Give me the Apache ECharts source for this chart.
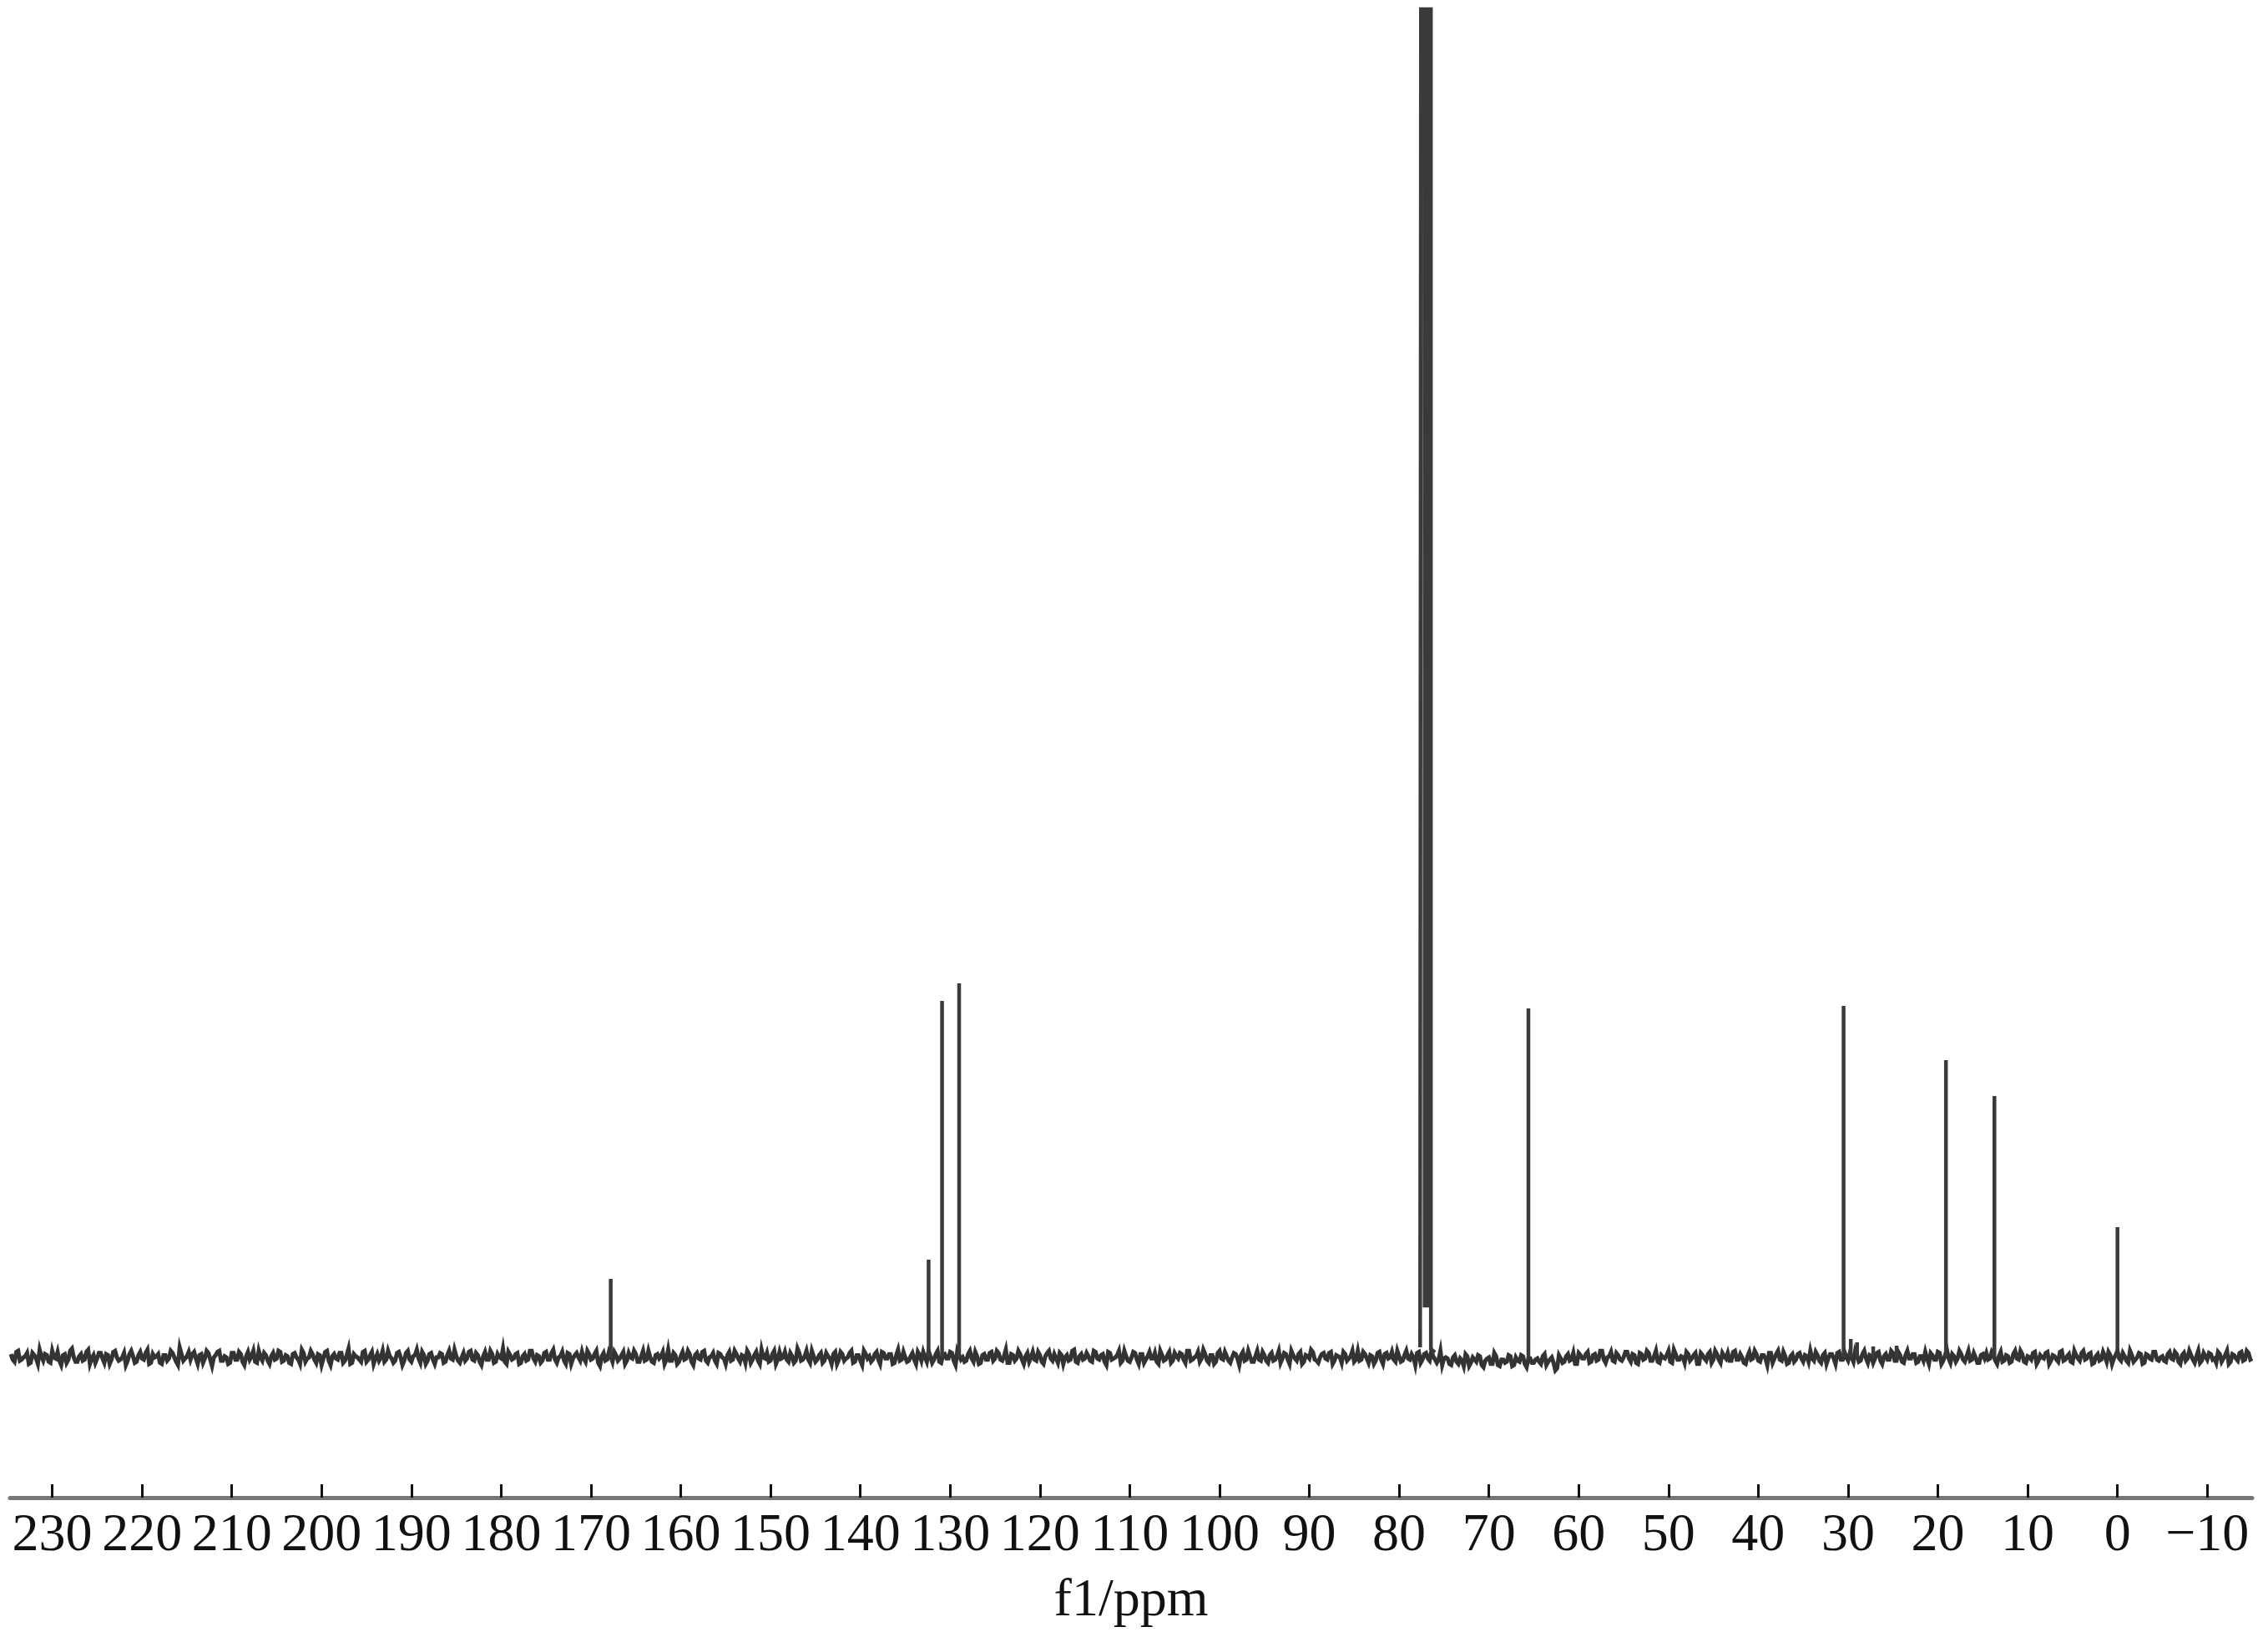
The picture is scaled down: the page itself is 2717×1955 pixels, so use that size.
<!DOCTYPE html>
<html>
<head>
<meta charset="utf-8">
<script src="https://cdn.jsdelivr.net/npm/echarts@6/dist/echarts.min.js"></script>
<style>
  html, body { margin: 0; padding: 0; background: #ffffff; }
  #chart { width: 2717px; height: 1955px; }
</style>
</head>
<body>
<div id="chart"></div>
<script>
// ---- Data ----
// Tick labels on the chemical-shift axis (ppm)
const tickValues = [230, 220, 210, 200, 190, 180, 170, 160, 150, 140, 130, 120, 110, 100, 90, 80, 70, 60, 50, 40, 30, 20, 10, 0, -10];

// Main peaks: chemical shift (ppm) and intensity (arbitrary units, baseline = 0)
const peakPpm = [167.8, 132.4, 130.9, 129.0, 65.6, 30.5, 19.1, 13.7, 0.0];
const peakInt = [94, 117, 427, 448, 418, 421, 356, 313, 156];

// Small impurity peaks near 30 ppm
const minorPpm = [29.7, 29.0, 27.2, 24.6];
const minorInt = [22, 18, 13, 14];

// CDCl3 solvent triplet (off scale), outline
const solventPpm = [77.66, 77.49, 77.49, 77.16, 77.16, 76.79, 76.79, 76.46, 76.46, 76.0];
const solventInt = [12, 12, 3000, 3000, 62, 62, 3000, 3000, 10, 6];

// Baseline noise, sampled every 0.4 ppm from 234.6 ppm down to -15.0 ppm
const noiseStart = 234.6;
const noiseStep = 0.4;
const noise = [
 3,-4,6,-2,1,-6,4,-1,7,-3,2,-5,0,5,-7,3,-2,8,-4,1,-3,5,-6,2,-1,
 4,-5,2,-2,6,-3,0,-7,3,1,-4,5,-2,7,-5,0,3,-6,2,-1,4,-4,9,-3,1,
 -2,5,-6,3,-1,4,-8,2,6,-3,0,-5,4,-2,3,-7,5,1,-4,6,-3,2,-6,4,-1,
 5,-3,1,-6,4,-2,7,-4,0,3,-5,2,-1,6,-7,3,-2,4,-3,8,-5,1,-2,5,-4,
 2,-6,3,0,-4,6,-1,-3,5,-7,4,-2,1,7,-5,2,-3,4,-6,0,3,-4,6,-2,1,
 -5,4,-1,6,-3,2,-7,5,-2,3,-4,0,8,-6,2,-1,4,-5,3,-2,6,-4,1,-3,5,
 -2,7,-5,1,-3,4,-6,2,0,5,-4,3,-1,6,-8,4,-2,1,5,-3,2,-6,4,-1,3,
 -4,6,-2,0,-5,3,1,-6,7,-3,2,-4,5,-1,3,-7,4,-2,6,-5,1,-3,4,0,-6,
 5,-2,3,-4,1,6,-5,2,-3,7,-1,-4,3,-6,5,0,-2,4,-5,8,-3,1,-2,6,-4,
 2,-5,4,-1,3,-6,5,-3,0,6,-4,2,-7,3,1,-2,5,-6,4,-1,3,-5,7,-2,0,
 -3,4,-6,2,5,-4,1,-2,6,-5,3,-1,4,-7,2,0,-3,6,-4,1,-5,3,-2,5,-1,
 4,-3,7,-5,2,-1,3,-6,4,0,-2,5,-4,1,6,-3,-1,4,-6,2,-2,7,-5,3,-1,
 1,-4,5,-2,3,-7,4,-1,2,-5,6,-3,0,4,-6,3,-2,5,-1,-4,6,-3,2,-5,4,
 -1,3,-5,6,-2,1,-4,7,-3,2,-6,4,-1,5,-3,0,3,-7,5,-2,1,-4,6,-3,2,
 -5,4,-2,6,-1,3,-6,2,-3,5,-4,1,7,-2,-5,3,-1,4,-6,2,0,5,-3,1,-4,
 6,-2,3,-5,1,-3,5,-6,4,0,-2,6,-4,2,-1,3,-7,5,-2,4,-3,1,-5,6,-1,
 -1,-7,2,-6,-3,3,-8,0,-4,1,-9,-1,-6,4,-7,-2,-5,2,-8,0,-4,1,-9,-1,-5,
 -1,-6,3,-4,0,-12,2,-5,1,-3,4,-6,2,-1,5,-4,3,-2,6,-5,1,-3,4,-2,0,
 5,-4,2,-6,3,-1,4,-3,6,-5,0,2,-4,7,-2,1,-5,3,-1,4,-6,2,-3,5,-2,
 3,-5,1,4,-3,6,-2,0,-6,5,-1,3,-4,2,-7,4,-1,6,-3,1,-5,3,-2,4,-4,
 1,6,-3,2,-5,4,-1,3,-6,5,-2,0,4,-4,2,-3,6,-5,1,-1,5,-6,3,-2,4,
 -3,2,-5,6,-1,3,-4,1,5,-6,2,-2,4,-3,7,-5,1,-1,3,-4,6,-2,0,-5,3,
 4,-1,2,-6,5,-3,1,-4,6,-2,3,-5,0,4,-6,2,-1,5,-3,1,-4,6,-2,3,-5,
 2,-3,6,-1,4,-5,3,-2,1,5,-6,2,-1,4,-3,6,-4,0,3,-5,2,-2,5,-3,1,
 -4,5,-2,3,-6,4,-1,2,-5,6,-3,1,4,-2,-5,3,-1,6,-4,2,-3,5,-2,4,-1
];
// Baseline noise between those samples (234.4 ppm down to -14.8 ppm, every 0.4 ppm)
const noiseMidStart = 234.4;
const noiseMid = [
 -2,5,-3,0,4,-5,2,-6,1,3,-4,6,-1,-3,2,-5,6,0,-4,3,-2,7,-1,-5,4,
 -1,3,-6,5,0,-2,4,-3,6,-5,2,-1,4,-6,3,1,-5,2,-3,6,0,-7,3,-1,5,
 3,-1,2,-5,6,-2,0,5,-3,1,-6,4,-2,5,-4,1,-2,6,-5,0,4,-3,1,-2,6,
 -4,2,-5,3,0,-6,4,-1,6,-2,3,-7,5,-3,1,-1,4,-5,2,-6,3,0,-4,6,-2,
 5,-1,-3,6,-2,1,-5,4,0,-3,6,-4,2,-1,5,-6,3,-2,0,4,-5,2,-1,7,-3,
 0,-3,5,-2,4,-4,1,-2,6,-5,3,-1,-4,5,-2,3,-6,1,-3,6,-1,2,-5,4,-2,
 4,-2,0,5,-6,3,-1,4,-3,-1,6,-2,3,-5,1,-3,5,-4,2,-1,5,-3,0,6,-4,
 1,-3,6,-4,2,-1,5,-2,-3,4,-6,1,-2,6,-4,2,-1,5,-3,0,4,-6,3,-1,2,
 -3,6,-1,2,-5,3,-2,5,-6,0,4,-3,6,-2,-1,5,-4,1,-3,4,-2,6,-5,1,-2,
 4,-3,1,-6,5,-2,3,-1,4,-5,2,-3,6,-1,-4,3,-2,5,-1,3,-6,2,-3,5,-4,
 1,-2,5,-3,0,6,-5,3,-4,2,-1,5,-3,6,-2,-4,3,-1,5,-6,2,-2,4,-3,6,
 -2,1,-5,3,-3,6,-2,1,-4,5,-3,2,-6,4,-1,3,-5,2,0,-3,6,-4,1,-2,4,
 -3,6,-1,2,-4,5,-2,0,6,-3,1,-4,5,-2,3,-5,1,-1,4,-6,2,-2,5,-3,1,
 4,-2,6,-3,0,5,-1,3,-5,2,-4,6,-2,1,-5,4,-1,2,-3,6,-4,1,-2,5,-3,
 2,-3,1,-5,4,-2,6,-1,3,-6,2,-1,5,-3,0,4,-2,5,-3,1,-5,3,-1,6,-2,
 -3,5,-1,2,-6,4,-2,3,-1,5,-4,1,-3,6,-2,0,4,-5,3,-1,6,-2,-2,-7,0,
 -6,0,-4,-1,-8,1,-5,-2,2,-7,-3,0,-6,1,-8,-2,-4,1,-7,-3,2,-6,-1,-5,-2,
 -4,1,-7,-2,-5,-10,-1,-4,3,-2,-6,4,-1,3,-5,2,-3,6,-2,0,5,-4,2,-3,5,
 -1,3,-5,4,-2,6,-3,1,-4,2,-1,6,-5,3,-2,0,5,-3,2,-6,4,-1,3,-5,6,
 -2,4,-1,-3,5,-2,3,-5,1,-2,6,-3,2,-1,4,-5,3,-2,5,-6,1,-4,3,-1,2,
 -4,-1,5,-3,2,-6,3,-1,4,-2,5,-3,0,6,-4,3,-1,2,-5,4,-3,1,-2,6,-3,
 5,-4,2,-1,3,-5,1,-3,-1,4,-2,5,-6,2,-1,3,-4,6,-2,1,-3,4,-5,2,-1,
 -2,5,-3,1,-4,2,-5,3,-1,6,-4,1,-2,5,-3,0,4,-6,2,-2,5,-3,1,-4,6,
 -1,4,-2,3,-6,1,-3,5,-4,2,-1,6,-3,1,-5,2,-2,4,-6,3,-1,5,-2,0,-3,
 3,-1,5,-4,2,-3,6,-2,1,-5,4,-2,3,-1,5,-4,2,-6,3,-1,4,-3,6,-2
];

// ---- Build traces ----
const baseline = [];
noise.forEach((v, i) => baseline.push([+(noiseStart - i * noiseStep).toFixed(2), v]));
noiseMid.forEach((v, i) => baseline.push([+(noiseMidStart - i * noiseStep).toFixed(2), v]));
baseline.sort((a, b) => b[0] - a[0]);

// peak trace: vertical sticks separated by gaps
const peakTrace = [];
peakPpm.forEach((p, i) => { peakTrace.push([p, 0], [p, peakInt[i]], [p, 0], [p, '-']); });
minorPpm.forEach((p, i) => { peakTrace.push([p, 0], [p, minorInt[i]], [p, 0], [p, '-']); });
solventPpm.forEach((p, j) => peakTrace.push([p, solventInt[j]]));

const chart = echarts.init(document.getElementById('chart'), null, { renderer: 'canvas' });
chart.setOption({
  animation: false,
  backgroundColor: '#ffffff',
  grid: { left: 12, right: 19, top: 11, bottom: 161, containLabel: false },
  xAxis: {
    type: 'value',
    min: -15,
    max: 234.7,
    inverse: true,
    name: 'f1/ppm',
    nameLocation: 'middle',
    nameGap: 92,
    nameTextStyle: { fontFamily: 'Liberation Serif', fontSize: 64, color: '#111' },
    axisLine: { show: true, onZero: false, lineStyle: { color: '#777777', width: 5 } },
    axisTick: {
      show: true, inside: true, length: 16,
      customValues: tickValues,
      lineStyle: { color: '#111111', width: 3 }
    },
    axisLabel: {
      show: true,
      customValues: tickValues,
      margin: 14,
      fontFamily: 'Liberation Serif',
      fontSize: 64,
      color: '#111111',
      formatter: v => (v < 0 ? '\u2212' + Math.abs(v) : String(v))
    },
    splitLine: { show: false }
  },
  yAxis: [{
    type: 'value',
    min: -168,
    max: 1615,
    show: false,
    splitLine: { show: false }
  }, {
    // noise displayed on an expanded scale (same zero line)
    type: 'value',
    min: -129.2,
    max: 1242.3,
    show: false,
    splitLine: { show: false }
  }],
  series: [{
    type: 'line',
    yAxisIndex: 1,
    data: baseline,
    showSymbol: false,
    symbol: 'none',
    clip: true,
    lineStyle: { color: '#333333', width: 5, join: 'miter' },
    emphasis: { disabled: true }
  }, {
    type: 'line',
    yAxisIndex: 0,
    data: peakTrace,
    showSymbol: false,
    symbol: 'none',
    clip: true,
    connectNulls: false,
    lineStyle: { color: '#3a3a3a', width: 4.5, join: 'miter' },
    emphasis: { disabled: true }
  }]
});
</script>
</body>
</html>
